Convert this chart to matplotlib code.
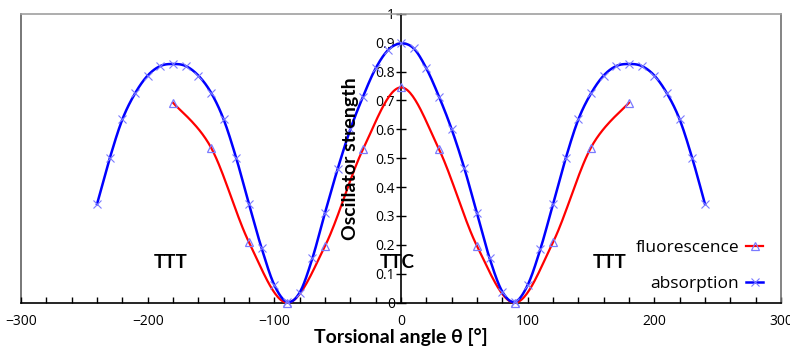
import numpy as np
import matplotlib
matplotlib.use("Agg")
import matplotlib.pyplot as plt
from matplotlib.lines import Line2D

plt.rcParams['font.family'] = ['Lato', 'DejaVu Sans']

# --- data ---
abs_angle = [-240, -230, -220, -210, -200, -190, -180, -170, -160, -150, -140, -130,
             -120, -110, -100, -90, -80, -70, -60, -50, -40, -30, -20, -10, 0,
             10, 20, 30, 40, 50, 60, 70, 80, 90, 100, 110, 120, 130, 140, 150,
             160, 170, 180, 190, 200, 210, 220, 230, 240]
abs_strength = [0.341, 0.499, 0.634, 0.724, 0.786, 0.819, 0.826, 0.819, 0.786, 0.727, 0.634, 0.499,
                0.341, 0.188, 0.061, 0.003, 0.035, 0.153, 0.311, 0.463, 0.600, 0.713, 0.811, 0.875, 0.897,
                0.880, 0.811, 0.713, 0.600, 0.465, 0.309, 0.153, 0.038, 0.003, 0.061, 0.185, 0.341, 0.499, 0.634, 0.724,
                0.786, 0.819, 0.826, 0.819, 0.786, 0.724, 0.634, 0.499, 0.341]
flu_angle = [-180, -150, -120, -90, -60, -30, 0, 30, 60, 90, 120, 150, 180]
flu_strength = [0.692, 0.537, 0.209, 0.0, 0.196, 0.531, 0.745, 0.531, 0.196, 0.0, 0.209, 0.537, 0.692]

x_ticks = [-300, -200, -100, 0, 100, 200, 300]
y_ticks = [0, 0.1, 0.2, 0.3, 0.4, 0.5, 0.6, 0.7, 0.8, 0.9, 1]
y_tick_labels = ['0', '0.1', '0.2', '0.3', '0.4', '0.5', '0.6', '0.7', '0.8', '0.9', '1']
region_labels = [(-182, 'TTT'), (-3, 'TTC'), (165, 'TTT')]


def smooth(xs, ys, n=30):
    """Excel-style smoothed line (cardinal Bezier through the points)."""
    p = np.column_stack([xs, ys]).astype(float)
    out = []
    for i in range(len(p) - 1):
        p0 = p[i - 1] if i > 0 else p[i]
        p1 = p[i]
        p2 = p[i + 1]
        p3 = p[i + 2] if i + 2 < len(p) else p[i + 1]
        c1 = p1 + (p2 - p0) / 6.0
        c2 = p2 - (p3 - p1) / 6.0
        t = np.linspace(0, 1, n)[:, None]
        seg = ((1 - t) ** 3) * p1 + 3 * ((1 - t) ** 2) * t * c1 + 3 * (1 - t) * t ** 2 * c2 + t ** 3 * p2
        out.append(seg if i == 0 else seg[1:])
    s = np.vstack(out)
    return s[:, 0], s[:, 1]


fig = plt.figure(figsize=(7.9, 3.47), dpi=100)
ax = fig.add_axes([0.0266, 0.1277, 0.9620, 0.8328])

mcol = '#7a7aff'
fx, fy = smooth(flu_angle, flu_strength)
ax.plot(fx, fy, color='#ff0000', lw=1.6, zorder=3, clip_on=False)
ax.plot(flu_angle, flu_strength, ls='none', marker='^', ms=6, mfc='none', mec=mcol, mew=0.9, zorder=4, clip_on=False)
axx, ayy = smooth(abs_angle, abs_strength)
ax.plot(axx, ayy, color='#0000ff', lw=1.8, zorder=3, clip_on=False)
ax.plot(abs_angle, abs_strength, ls='none', marker='x', ms=6, mec=mcol, mew=0.8, zorder=4, clip_on=False)

ax.set_xlim(-300, 300)
ax.set_ylim(0, 1)

# spines
ax.spines['left'].set_position(('data', 0))
ax.spines['left'].set_color('black')
ax.spines['left'].set_linewidth(1.2)
ax.spines['bottom'].set_color('black')
ax.spines['bottom'].set_linewidth(1.2)
ax.spines['top'].set_color('#a0a0a0')
ax.spines['top'].set_linewidth(1.2)
ax.spines['right'].set_color('#707070')
ax.spines['right'].set_linewidth(1.2)
ax.plot([0, 0], [0, 1], transform=ax.transAxes, color='#606060', lw=1.2, clip_on=False, zorder=1)

ax.set_xticks(x_ticks)
ax.set_xticks(np.arange(-280, 300, 20), minor=True)
ax.tick_params(axis='x', which='major', direction='in', length=4, width=1, labelsize=10, pad=8, colors='black')
ax.tick_params(axis='x', which='minor', direction='in', length=4, width=1)
ax.set_yticks(y_ticks)
ax.set_yticklabels(y_tick_labels)
ax.tick_params(axis='y', which='major', direction='inout', length=7, width=1, labelsize=10, pad=1)

for lab in ax.get_xticklabels() + ax.get_yticklabels():
    lab.set_fontfamily(['Open Sans', 'DejaVu Sans'])

ax.text(0.5, -0.118, 'Torsional angle θ [°]', transform=ax.transAxes, fontsize=14,
        fontweight='bold', ha='center', va='center')
ax.text(0.433, 0.50, 'Oscillator strength', transform=ax.transAxes, fontsize=14,
        fontweight='bold', ha='center', va='center', rotation=90, zorder=5)

for xv, t in region_labels:
    ax.text(xv, 0.14, t, fontsize=13.5, fontweight='bold', ha='center', va='center', zorder=5)

handles = [Line2D([], [], color='#ff0000', lw=1.6, marker='^', ms=6, mfc='none', mec=mcol, mew=0.9),
           Line2D([], [], color='#0000ff', lw=1.8, marker='x', ms=6, mec=mcol, mew=0.8)]
ax.legend(handles, ['fluorescence', 'absorption'], loc='center right', bbox_to_anchor=(0.986, 0.127),
          markerfirst=False, frameon=False, handlelength=1.0, labelspacing=1.15,
          handletextpad=0.4, borderaxespad=0.0, prop={'family': ['Open Sans', 'DejaVu Sans'], 'size': 12.5})

fig.savefig('out.png', dpi=100)
